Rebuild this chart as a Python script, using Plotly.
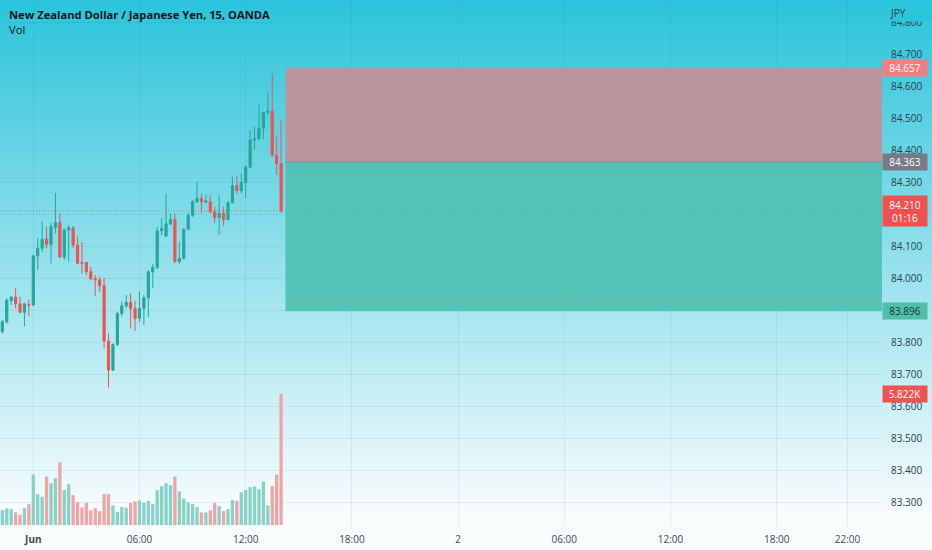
import plotly.graph_objects as go
import pandas as pd

# ---------------- data ----------------
bar_start = "2023-05-31 22:15"
n_bars = 64
times = pd.date_range(bar_start, periods=n_bars, freq="15min")

open_ = [83.832, 83.863, 83.929, 83.940, 83.919, 83.893, 83.917, 83.916,
         84.069, 84.093, 84.122, 84.105, 84.158, 84.173, 84.066, 84.150,
         84.157, 84.103, 84.048, 84.048, 84.020, 83.998, 83.994, 83.976,
         83.803, 83.712, 83.792, 83.889, 83.913, 83.924, 83.905, 83.874,
         83.905, 83.938, 84.019, 84.033, 84.148, 84.131, 84.169, 84.183,
         84.051, 84.061, 84.152, 84.196, 84.238, 84.249, 84.237, 84.238,
         84.207, 84.189, 84.202, 84.183, 84.235, 84.288, 84.273, 84.298,
         84.346, 84.431, 84.435, 84.468, 84.517, 84.522, 84.384, 84.358]
high = [83.869, 83.936, 83.944, 83.968, 83.942, 83.923, 83.933, 84.072,
        84.124, 84.176, 84.160, 84.173, 84.266, 84.202, 84.155, 84.165,
        84.162, 84.129, 84.113, 84.051, 84.035, 84.009, 84.004, 84.001,
        83.827, 83.796, 83.895, 83.926, 83.947, 83.952, 83.929, 83.957,
        83.947, 84.025, 84.044, 84.160, 84.186, 84.264, 84.202, 84.202,
        84.113, 84.155, 84.204, 84.244, 84.301, 84.264, 84.259, 84.259,
        84.223, 84.259, 84.223, 84.241, 84.316, 84.319, 84.327, 84.353,
        84.462, 84.473, 84.543, 84.520, 84.582, 84.639, 84.441, 84.494]
low = [83.827, 83.858, 83.915, 83.905, 83.890, 83.848, 83.881, 83.912,
       84.025, 84.082, 84.093, 84.046, 84.139, 84.061, 84.056, 84.051,
       84.093, 84.044, 84.014, 84.009, 83.994, 83.944, 83.957, 83.780,
       83.658, 83.710, 83.787, 83.879, 83.905, 83.842, 83.835, 83.863,
       83.853, 83.879, 83.968, 84.027, 84.134, 84.129, 84.165, 84.048,
       84.044, 84.058, 84.150, 84.191, 84.235, 84.202, 84.233, 84.202,
       84.171, 84.134, 84.163, 84.179, 84.233, 84.264, 84.264, 84.249,
       84.343, 84.402, 84.431, 84.434, 84.509, 84.379, 84.322, 84.204]
close = [83.863, 83.931, 83.940, 83.919, 83.893, 83.919, 83.915, 84.069,
         84.093, 84.121, 84.105, 84.160, 84.173, 84.066, 84.150, 84.157,
         84.103, 84.046, 84.046, 84.020, 83.997, 83.994, 83.976, 83.803,
         83.712, 83.792, 83.889, 83.913, 83.924, 83.905, 83.874, 83.905,
         83.938, 84.019, 84.033, 84.147, 84.155, 84.169, 84.183, 84.051,
         84.061, 84.152, 84.196, 84.238, 84.249, 84.238, 84.241, 84.207,
         84.189, 84.202, 84.183, 84.235, 84.288, 84.273, 84.298, 84.346,
         84.431, 84.435, 84.468, 84.517, 84.522, 84.384, 84.358, 84.210]
volume = [663, 737, 707, 560, 457, 752, 929, 2240,
          1371, 1253, 2152, 1857, 2078, 2786, 1562, 1813,
          1327, 1017, 781, 988, 649, 752, 619, 1371,
          1371, 870, 575, 796, 766, 988, 1047, 1091,
          988, 1076, 929, 1548, 1725, 1857, 1769, 2152,
          1489, 1179, 1017, 929, 796, 560, 560, 649,
          988, 840, 619, 707, 1106, 1076, 1459, 1562,
          1680, 1710, 1592, 1931, 870, 1725, 2240, 5822]

# position tool levels
stop_level = 84.657
entry_level = 84.363
target_level = 83.896
last_price = 84.210
countdown = "01:16"
last_volume_label = "5.822K"
position_start = "2023-06-01 14:15"

x_range = ["2023-05-31 22:07:08", "2023-06-02 23:57:00"]
x_tickvals = ["2023-06-01 00:00", "2023-06-01 06:00", "2023-06-01 12:00",
              "2023-06-01 18:00", "2023-06-02 00:00", "2023-06-02 06:00",
              "2023-06-02 12:00", "2023-06-02 18:00", "2023-06-02 22:00"]
x_ticktext = ["<b>Jun</b>", "06:00", "12:00", "18:00", "2",
              "06:00", "12:00", "18:00", "22:00"]
y_tickvals = [83.3, 83.4, 83.5, 83.6, 83.7, 83.8, 83.9, 84.0,
              84.1, 84.2, 84.3, 84.4, 84.5, 84.6, 84.7, 84.8]
y_range = [83.22188, 84.86875]
vol_range = [-89, 23333]

title_text = "New Zealand Dollar / Japanese Yen, 15, OANDA"
currency_text = "JPY"

# ---------------- styling ----------------
W, H = 932, 550
ML, MR, MT, MB = 0, 50, 0, 23
PH = H - MT - MB
FONT = "Open Sans"
UP, DOWN = "#26a69a", "#ef5350"
VOL_UP, VOL_DOWN = "#86d2c6", "#f2a4a4"

vol_colors = [VOL_UP if c >= o else VOL_DOWN for o, c in zip(open_, close)]

fig = go.Figure()
fig.add_trace(go.Bar(x=times, y=volume, marker_color=vol_colors,
                     marker_line_width=0, yaxis="y2", hoverinfo="skip",
                     showlegend=False))
fig.add_trace(go.Candlestick(
    x=times, open=open_, high=high, low=low, close=close,
    increasing=dict(line=dict(color=UP, width=1), fillcolor=UP),
    decreasing=dict(line=dict(color=DOWN, width=1), fillcolor=DOWN),
    whiskerwidth=0, hoverinfo="skip", showlegend=False))

# background gradient strips (decoration)
stops = [(0, (42, 196, 218)), (510, (246, 252, 253)), (550, (249, 253, 254))]


def grad(py):
    for (p0, c0), (p1, c1) in zip(stops[:-1], stops[1:]):
        if py <= p1:
            t = (py - p0) / (p1 - p0)
            return "rgb(%d,%d,%d)" % tuple(round(a + (b - a) * t) for a, b in zip(c0, c1))
    return "rgb(%d,%d,%d)" % stops[-1][1]


shapes = []
step = 5
pw = W - ML - MR
for py in range(0, H, step):
    y_top = (MT + PH - py + 1) / PH
    y_bot = (MT + PH - (py + step + 1)) / PH
    shapes.append(dict(type="rect", xref="paper", yref="paper",
                       x0=-0.01, x1=(W + 5) / pw, y0=y_bot, y1=y_top,
                       fillcolor=grad(py + step / 2), line_width=0, layer="below"))

# last price dotted line
shapes.append(dict(type="line", xref="paper", yref="y", x0=0, x1=1,
                   y0=last_price, y1=last_price,
                   line=dict(color="rgba(239,83,80,0.75)", width=1, dash="1px,2px"),
                   layer="between"))
# position zones
shapes.append(dict(type="rect", xref="x", yref="y", x0=position_start,
                   x1="2023-06-03 03:00", y0=entry_level, y1=stop_level,
                   fillcolor="#bb959c", line_width=0, layer="between"))
shapes.append(dict(type="rect", xref="x", yref="y", x0=position_start,
                   x1="2023-06-03 03:00", y0=target_level, y1=entry_level,
                   fillcolor="rgba(80,193,176,0.93)", line_width=0, layer="between"))
shapes.append(dict(type="line", xref="x", yref="y", x0=position_start,
                   x1="2023-06-03 03:00", y0=entry_level, y1=entry_level,
                   line=dict(color="#8a8d95", width=1), layer="between"))

annotations = [
    dict(text="<b>" + title_text + "</b>", xref="paper", yref="paper",
         x=7 / pw, y=(PH - 14) / PH, xanchor="left", yanchor="middle",
         showarrow=False, font=dict(family=FONT, size=11.2, color="#131722")),
    dict(text="Vol", xref="paper", yref="paper",
         x=7 / pw, y=(PH - 29) / PH, xanchor="left", yanchor="middle",
         showarrow=False, font=dict(family=FONT, size=11.2, color="#131722")),
    # currency label sits on top of (half hides) the 84.800 tick, as in the original
    dict(text=currency_text, xref="paper", yref="paper",
         x=1, xshift=7, y=(PH - 12) / PH, xanchor="left", yanchor="middle",
         showarrow=False, bgcolor="rgb(43,197,218)", width=46, height=17,
         borderpad=0, align="left",
         font=dict(family=FONT, size=10, color="#2c3e46")),
]


def price_box(y, text, bg, fg="#ffffff", yref="y", height=None):
    d = dict(text=text, xref="paper", yref=yref, x=1, xanchor="left",
             y=y, yanchor="middle", showarrow=False, bgcolor=bg,
             width=42, borderpad=1, align="center",
             font=dict(family=FONT, size=10, color=fg))
    if height:
        d["height"] = height
    return d


annotations += [
    price_box(stop_level, "%.3f" % stop_level, "#f77c80"),
    price_box(entry_level, "%.3f" % entry_level, "#787b86"),
    price_box(last_price, "%.3f<br>%s" % (last_price, countdown), "#f0514f", height=28),
    price_box(target_level, "%.3f" % target_level, "#4fbfa8", fg="#143a36"),
    price_box(volume[-1], last_volume_label, "#ef5350", yref="y2"),
]

grid = "rgba(70,100,110,0.09)"
fig.update_layout(
    width=W, height=H,
    margin=dict(l=ML, r=MR, t=MT, b=MB),
    paper_bgcolor="rgb(249,253,254)",
    plot_bgcolor="rgba(0,0,0,0)",
    shapes=shapes, annotations=annotations,
    bargap=0.25, boxgap=0.3,
    font=dict(family=FONT, size=10, color="#2c3e46"),
    xaxis=dict(type="date", range=x_range, tickvals=x_tickvals,
               ticktext=x_ticktext, showgrid=True, gridcolor=grid,
               ticks="outside", ticklen=3, tickcolor="rgba(0,0,0,0)",
               tickfont=dict(family=FONT, size=10, color="#3e4a52"),
               showline=False, zeroline=False,
               rangeslider=dict(visible=False), fixedrange=True),
    yaxis=dict(side="right", range=y_range, tickvals=y_tickvals,
               ticktext=["%.3f" % v for v in y_tickvals],
               showgrid=True, gridcolor=grid, ticks="outside", ticklen=6,
               tickcolor="rgba(0,0,0,0)",
               tickfont=dict(family=FONT, size=10, color="#2c3e46"),
               showline=False, zeroline=False, fixedrange=True),
    yaxis2=dict(overlaying="y", range=vol_range, visible=False,
                fixedrange=True),
    showlegend=False,
)

fig.write_html("out.html", config={"displayModeBar": False},
               post_script="document.body.style.margin='0px';"
                           "document.body.style.overflow='hidden';")
